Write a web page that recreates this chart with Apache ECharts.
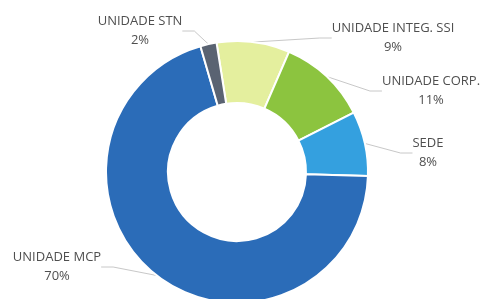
<!DOCTYPE html>
<html>
<head>
<meta charset="utf-8">
<script src="https://cdn.jsdelivr.net/npm/echarts@6/dist/echarts.min.js"></script>
<style>html,body{margin:0;padding:0;background:#fff;}#c{width:481px;height:299px;}</style>
</head>
<body>
<div id="c"></div>
<script>
var categories = ['UNIDADE INTEG. SSI', 'UNIDADE CORP.', 'SEDE', 'UNIDADE MCP', 'UNIDADE STN'];
var values = [9, 11, 8, 70, 2];
var colors = ['#e4ef9e', '#8cc43f', '#34a0df', '#2b6cb8', '#5a6372'];

// label centres (layout only)
var labelPos = [[393, 38], [431, 91], [428, 153], [57, 267], [140, 31]];

var chart = echarts.init(document.getElementById('c'), null, {renderer: 'canvas'});
chart.setOption({
  animation: false,
  backgroundColor: '#ffffff',
  series: [{
    type: 'pie',
    center: [237, 172],
    radius: [69, 131],
    startAngle: 99,
    clockwise: true,
    avoidLabelOverlap: false,
    itemStyle: {borderColor: '#ffffff', borderWidth: 2},
    label: {
      show: true,
      position: 'outside',
      formatter: '{b}\n{c}%',
      color: '#4f4f4f',
      fontFamily: 'Open Sans',
      fontSize: 13,
      lineHeight: 19,
      align: 'center'
    },
    labelLine: {show: true, length: 8, length2: 12, lineStyle: {color: '#c8c8c8', width: 1}},
    labelLayout: function (p) {
      var pos = labelPos[p.dataIndex];
      return {x: pos[0], y: pos[1], align: 'center', verticalAlign: 'middle'};
    },
    data: categories.map(function (n, i) {
      return {name: n, value: values[i], itemStyle: {color: colors[i]}};
    })
  }]
});
</script>
</body>
</html>
